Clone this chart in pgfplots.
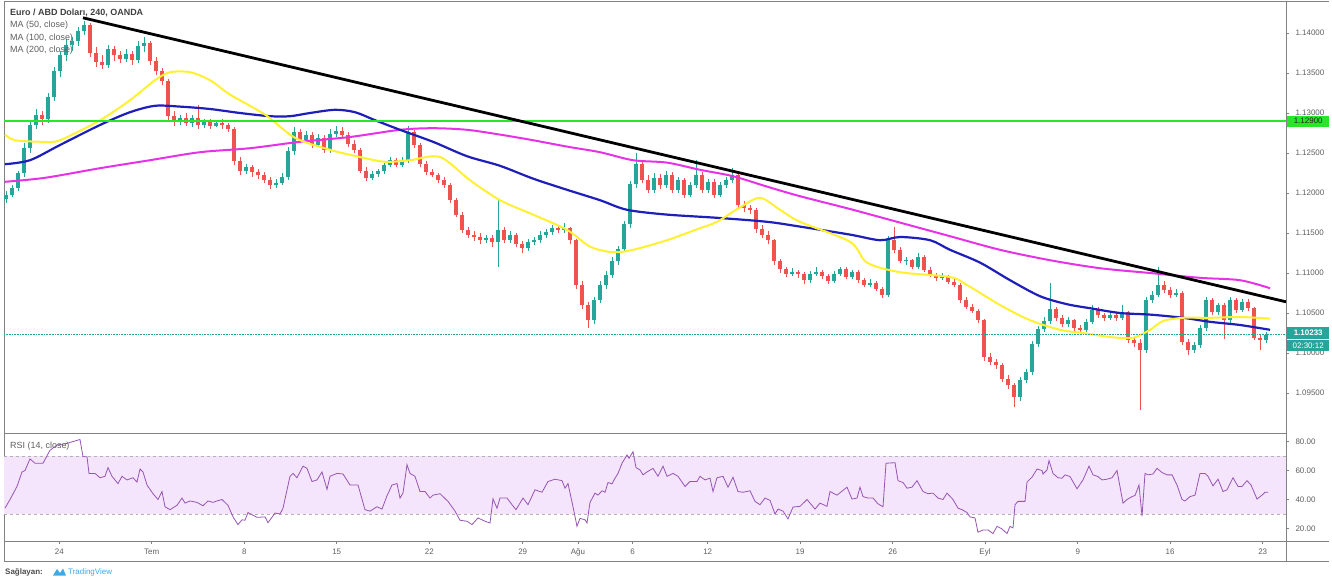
\documentclass[border=0pt]{standalone}
\usepackage{fontspec}
\setmainfont{Liberation Sans}
\usepackage{pgfplots}
\usepackage{pgfplotstable}
\pgfplotsset{compat=1.18}
\definecolor{upc}{RGB}{38,166,154}
\definecolor{dnc}{RGB}{239,83,80}
\definecolor{ma50}{RGB}{255,240,50}
\definecolor{ma100}{RGB}{30,30,185}
\definecolor{ma200}{RGB}{230,50,230}
\definecolor{glevel}{RGB}{40,230,40}
\definecolor{rsiline}{RGB}{150,85,180}
\definecolor{rsifill}{RGB}{244,228,252}
\definecolor{axgray}{RGB}{130,130,130}
\definecolor{txtgray}{RGB}{95,95,95}
\definecolor{tvblue}{RGB}{60,170,230}

\pgfplotstableread{
x o h l c
6 1.1192 1.1203 1.1188 1.1198
12 1.1198 1.1210 1.1195 1.1206
18 1.1206 1.1228 1.1203 1.1225
24 1.1225 1.1262 1.1220 1.1256
30 1.1256 1.1290 1.1250 1.1285
36 1.1285 1.1305 1.1280 1.1298
42 1.1298 1.1302 1.1285 1.1292
48 1.1292 1.1325 1.1288 1.1320
54 1.1320 1.1358 1.1315 1.1352
60 1.1352 1.1378 1.1345 1.1373
66 1.1373 1.1392 1.1365 1.1385
72 1.1385 1.1395 1.1378 1.1390
78 1.1390 1.1408 1.1384 1.1403
84 1.1403 1.1415 1.1398 1.1410
90 1.1410 1.1412 1.1370 1.1375
96 1.1375 1.1382 1.1358 1.1364
102 1.1364 1.1372 1.1355 1.1360
108 1.1360 1.1385 1.1356 1.1380
114 1.1380 1.1384 1.1365 1.1372
120 1.1372 1.1378 1.1362 1.1368
126 1.1368 1.1380 1.1364 1.1374
132 1.1374 1.1377 1.1360 1.1366
138 1.1366 1.1390 1.1362 1.1384
144 1.1384 1.1395 1.1376 1.1388
150 1.1388 1.1390 1.1360 1.1365
156 1.1365 1.1370 1.1348 1.1352
162 1.1352 1.1356 1.1335 1.1340
168 1.1340 1.1342 1.1290 1.1296
174 1.1296 1.1302 1.1284 1.1290
180 1.1290 1.1298 1.1285 1.1294
186 1.1294 1.1300 1.1284 1.1288
192 1.1288 1.1297 1.1283 1.1294
198 1.1294 1.1310 1.1280 1.1285
204 1.1285 1.1293 1.1281 1.1289
210 1.1289 1.1292 1.1280 1.1284
216 1.1284 1.1291 1.1282 1.1288
222 1.1288 1.1292 1.1280 1.1285
228 1.1285 1.1288 1.1276 1.1280
234 1.1280 1.1283 1.1235 1.1240
240 1.1240 1.1245 1.1222 1.1228
246 1.1228 1.1236 1.1224 1.1232
252 1.1232 1.1235 1.1220 1.1226
258 1.1226 1.1230 1.1218 1.1222
264 1.1222 1.1226 1.1212 1.1216
270 1.1216 1.1220 1.1205 1.1210
276 1.1210 1.1218 1.1206 1.1213
282 1.1213 1.1225 1.1210 1.1220
288 1.1220 1.1258 1.1216 1.1252
294 1.1252 1.1282 1.1248 1.1276
300 1.1276 1.1280 1.1262 1.1266
306 1.1266 1.1278 1.1262 1.1273
312 1.1273 1.1276 1.1256 1.1260
318 1.1260 1.1274 1.1257 1.1269
324 1.1269 1.1272 1.1250 1.1254
330 1.1254 1.1280 1.1250 1.1274
336 1.1274 1.1284 1.1270 1.1277
342 1.1277 1.1282 1.1268 1.1272
348 1.1272 1.1276 1.1258 1.1261
354 1.1261 1.1266 1.1250 1.1254
360 1.1254 1.1256 1.1225 1.1228
366 1.1228 1.1232 1.1215 1.1219
372 1.1219 1.1228 1.1216 1.1224
378 1.1224 1.1230 1.1220 1.1227
384 1.1227 1.1238 1.1224 1.1235
390 1.1235 1.1245 1.1232 1.1241
396 1.1241 1.1244 1.1232 1.1235
402 1.1235 1.1245 1.1232 1.1241
408 1.1241 1.1284 1.1238 1.1276
414 1.1276 1.1279 1.1256 1.1260
420 1.1260 1.1262 1.1232 1.1236
426 1.1236 1.1240 1.1222 1.1226
432 1.1226 1.1230 1.1220 1.1223
438 1.1223 1.1225 1.1212 1.1216
444 1.1216 1.1220 1.1206 1.1210
450 1.1210 1.1212 1.1188 1.1191
456 1.1191 1.1194 1.1170 1.1173
462 1.1173 1.1176 1.1150 1.1154
468 1.1154 1.1158 1.1144 1.1148
474 1.1148 1.1152 1.1140 1.1145
480 1.1145 1.1150 1.1136 1.1141
486 1.1141 1.1148 1.1138 1.1144
492 1.1144 1.1147 1.1132 1.1139
498 1.1139 1.1191 1.1108 1.1154
504 1.1154 1.1158 1.1137 1.1141
510 1.1141 1.1152 1.1138 1.1148
516 1.1148 1.1150 1.1132 1.1136
522 1.1136 1.1140 1.1125 1.1131
528 1.1131 1.1143 1.1128 1.1139
534 1.1139 1.1145 1.1135 1.1141
540 1.1141 1.1152 1.1138 1.1148
546 1.1148 1.1155 1.1144 1.1151
552 1.1151 1.1160 1.1148 1.1156
558 1.1156 1.1160 1.1150 1.1154
564 1.1154 1.1162 1.1150 1.1156
570 1.1156 1.1158 1.1136 1.1141
576 1.1141 1.1143 1.1080 1.1085
582 1.1085 1.1090 1.1055 1.1060
588 1.1060 1.1064 1.1031 1.1041
594 1.1041 1.1070 1.1036 1.1066
600 1.1066 1.1090 1.1062 1.1085
606 1.1085 1.1102 1.1080 1.1098
612 1.1098 1.1120 1.1094 1.1115
618 1.1115 1.1134 1.1110 1.1130
624 1.1130 1.1165 1.1126 1.1161
630 1.1161 1.1215 1.1156 1.1211
636 1.1211 1.1250 1.1206 1.1236
642 1.1236 1.1240 1.1212 1.1216
648 1.1216 1.1222 1.1200 1.1204
654 1.1204 1.1225 1.1200 1.1219
660 1.1219 1.1224 1.1205 1.1210
666 1.1210 1.1228 1.1206 1.1223
672 1.1223 1.1226 1.1200 1.1204
678 1.1204 1.1220 1.1200 1.1216
684 1.1216 1.1219 1.1194 1.1198
690 1.1198 1.1214 1.1195 1.1210
696 1.1210 1.1241 1.1206 1.1223
702 1.1223 1.1226 1.1200 1.1204
708 1.1204 1.1218 1.1200 1.1214
714 1.1214 1.1217 1.1194 1.1198
720 1.1198 1.1214 1.1195 1.1210
726 1.1210 1.1220 1.1206 1.1216
732 1.1216 1.1231 1.1212 1.1223
738 1.1223 1.1226 1.1180 1.1185
744 1.1185 1.1190 1.1176 1.1181
750 1.1181 1.1185 1.1174 1.1179
756 1.1179 1.1181 1.1150 1.1155
762 1.1155 1.1160 1.1144 1.1148
768 1.1148 1.1152 1.1136 1.1141
774 1.1141 1.1143 1.1110 1.1115
780 1.1115 1.1118 1.1100 1.1105
786 1.1105 1.1108 1.1095 1.1099
792 1.1099 1.1106 1.1096 1.1101
798 1.1101 1.1104 1.1094 1.1099
804 1.1099 1.1101 1.1086 1.1091
810 1.1091 1.1102 1.1088 1.1099
816 1.1099 1.1108 1.1096 1.1101
822 1.1101 1.1104 1.1093 1.1096
828 1.1096 1.1099 1.1086 1.1090
834 1.1090 1.1102 1.1087 1.1099
840 1.1099 1.1108 1.1096 1.1105
846 1.1105 1.1107 1.1092 1.1095
852 1.1095 1.1104 1.1092 1.1101
858 1.1101 1.1104 1.1088 1.1091
864 1.1091 1.1094 1.1082 1.1085
870 1.1085 1.1092 1.1082 1.1088
876 1.1088 1.1090 1.1077 1.1080
882 1.1080 1.1082 1.1069 1.1073
888 1.1073 1.1146 1.1070 1.1141
894 1.1141 1.1158 1.1125 1.1129
900 1.1129 1.1132 1.1112 1.1115
906 1.1115 1.1120 1.1110 1.1116
912 1.1116 1.1118 1.1105 1.1108
918 1.1108 1.1125 1.1105 1.1120
924 1.1120 1.1122 1.1101 1.1104
930 1.1104 1.1107 1.1095 1.1098
936 1.1098 1.1100 1.1090 1.1094
942 1.1094 1.1100 1.1091 1.1096
948 1.1096 1.1098 1.1086 1.1089
954 1.1089 1.1092 1.1082 1.1085
960 1.1085 1.1087 1.1063 1.1066
966 1.1066 1.1070 1.1055 1.1058
972 1.1058 1.1061 1.1050 1.1053
978 1.1053 1.1055 1.1038 1.1041
984 1.1041 1.1043 1.0990 1.0995
990 1.0995 1.1000 1.0985 1.0989
996 1.0989 1.0993 1.0980 1.0985
1002 1.0985 1.0988 1.0964 1.0968
1008 1.0968 1.0972 1.0955 1.0960
1014 1.0960 1.0963 1.0933 1.0945
1020 1.0945 1.0970 1.0940 1.0966
1026 1.0966 1.0980 1.0962 1.0976
1032 1.0976 1.1015 1.0972 1.1011
1038 1.1011 1.1034 1.1007 1.1030
1044 1.1030 1.1045 1.1026 1.1040
1050 1.1040 1.1088 1.1036 1.1055
1056 1.1055 1.1058 1.1040 1.1044
1062 1.1044 1.1047 1.1032 1.1036
1068 1.1036 1.1045 1.1033 1.1041
1074 1.1041 1.1043 1.1028 1.1031
1080 1.1031 1.1035 1.1025 1.1029
1086 1.1029 1.1043 1.1026 1.1039
1092 1.1039 1.1060 1.1036 1.1054
1098 1.1054 1.1057 1.1044 1.1048
1104 1.1048 1.1050 1.1040 1.1044
1110 1.1044 1.1052 1.1041 1.1048
1116 1.1048 1.1050 1.1040 1.1044
1122 1.1044 1.1060 1.1041 1.1051
1128 1.1051 1.1053 1.1012 1.1016
1134 1.1016 1.1019 1.1008 1.1013
1140 1.1013 1.1018 1.0929 1.1004
1146 1.1004 1.1070 1.1000 1.1066
1152 1.1066 1.1078 1.1062 1.1073
1158 1.1073 1.1108 1.1070 1.1085
1164 1.1085 1.1090 1.1075 1.1079
1170 1.1079 1.1082 1.1069 1.1073
1176 1.1073 1.1080 1.1070 1.1075
1182 1.1075 1.1077 1.1010 1.1014
1188 1.1014 1.1018 1.0998 1.1004
1194 1.1004 1.1014 1.1000 1.1010
1200 1.1010 1.1035 1.1006 1.1031
1206 1.1031 1.1070 1.1028 1.1066
1212 1.1066 1.1069 1.1047 1.1051
1218 1.1051 1.1063 1.1048 1.1060
1224 1.1060 1.1062 1.1018 1.1041
1230 1.1041 1.1070 1.1038 1.1066
1236 1.1066 1.1069 1.1050 1.1054
1242 1.1054 1.1067 1.1051 1.1064
1248 1.1064 1.1068 1.1052 1.1056
1254 1.1056 1.1058 1.1016 1.1019
1260 1.1019 1.1022 1.1004 1.1016
1266 1.1016 1.1026 1.1013 1.1023
}\candles

\pgfplotstableread{
x r
5 34
10 40
17 49
22 59
25 60
30 68
35 65
43 65
50 74
57 77.5
67 78.7
80 81.4
83 69.5
87 69.5
89 58
95 58
100 55
105 56
108 62
112 56
118 51
122 56
127 53.5
133 55
137 52
140 61
143 59
147 50
153 44
158 40
162 45.5
165 35
170 33
177 36
182 41
185 37.5
190 39
197 38
203 35.7
208 39
213 38
217 39
222 40
228 36
233 28
238 22.7
242 26
245 25.7
248 31
257 27.7
265 28
268 24
275 30.7
280 30
283 34
290 56
293 58
297 55
303 63
307 61.5
312 52.4
317 53.5
322 59
327 47
330 56
337 58
343 57.6
350 50
358 50
365 33
370 32
377 35
382 33.4
387 42.6
392 50
397 51
400 41
403 44.4
407 64
410 58
415 56
420 45.5
425 45.5
430 41
433 43
440 44
448 38.7
455 32
460 25.7
467 25
472 22.7
478 27.3
485 25
490 23.8
493 40.5
497 34
500 41
507 41
512 36.4
516 33
523 41
528 36.4
535 46.7
542 45
548 52.4
555 54
562 53
565 47.8
568 51
573 35
577 21.5
580 27
585 26
587 23.8
590 38
595 44.4
598 43
602 46
605 45
608 51.7
612 50.8
615 54.7
618 58
622 65
627 70.7
629 68.4
633 73
636 62
640 60.4
643 57
647 59
653 61.5
658 56
663 63
667 56
673 58
678 56
685 49
690 52.4
697 52.4
700 56
705 53.5
710 54.7
713 45.5
717 55
723 56
728 48.5
733 55.4
738 45.5
743 45
750 46
755 38.7
760 36.4
765 41
770 39.4
775 30
778 33.4
783 32
788 26.6
793 34.8
800 35.3
807 40
815 33.4
820 37.5
827 35.3
830 45.5
837 43
847 48.5
852 40.3
857 41
860 48.5
863 42
868 41
873 41
878 37
883 35
886 65
895 65.4
898 53
903 51.7
907 47.8
912 48.5
917 53
923 45.5
928 44
933 44.4
938 41
943 40
947 44.4
953 40
958 34
962 33
967 31
970 28
975 27.3
978 17.4
983 19
988 19
993 16.5
997 21.5
1002 19.7
1007 16.5
1010 21.5
1013 20.4
1015 36.4
1018 38.7
1025 38.7
1027 52
1032 55.4
1037 61
1042 60
1043 57.6
1047 60.4
1049 66.8
1053 58
1058 55
1062 54.7
1065 57
1070 55.8
1077 47.4
1083 53.5
1089 63
1093 57
1098 55.8
1102 53.5
1107 54
1112 55
1117 60
1123 37.5
1127 40
1132 42
1135 42.8
1139 50
1142 28.4
1145 58
1148 57
1153 57.6
1157 61.5
1162 58.6
1167 57
1172 57
1177 50
1182 40
1185 39
1190 42
1195 43
1200 58
1205 58
1208 56
1213 49.4
1218 54
1223 45.5
1227 46.7
1233 55
1238 49
1242 49
1247 53
1251 50
1257 40.3
1262 43
1265 45
1268 45
}\rsidata

\begin{document}
\begin{tikzpicture}
\path[use as bounding box] (0,0) rectangle (1332bp,-578bp);

% ---------- main price panel ----------
\begin{axis}[
  at={(4bp,-433bp)}, anchor=south west, scale only axis,
  width=1282bp, height=432bp,
  xmin=4, xmax=1286, ymin=1.09, ymax=1.144,
  axis line style={draw=axgray, line width=0.6bp},
  xtick=\empty,
  ytick={1.095,1.10,1.105,1.11,1.115,1.12,1.125,1.13,1.135,1.14},
  ytick pos=right, yticklabel pos=right,
  tick align=outside, major tick length=3bp,
  tick style={draw=axgray, line width=0.5bp},
  yticklabel style={font=\fontsize{8}{9}\selectfont, text=txtgray, xshift=3bp,
    /pgf/number format/.cd, fixed, fixed zerofill, precision=5, assume math mode=true},
]
% wicks
\addplot[draw=none, mark=none, forget plot,
  restrict expr to domain={\thisrow{c}-\thisrow{o}}{0:1},
  error bars/.cd, y dir=plus, y explicit, error mark=none,
  error bar style={draw=upc, line width=1bp}]
  table[x=x, y=l, y error plus expr=\thisrow{h}-\thisrow{l}] {\candles};
\addplot[draw=none, mark=none, forget plot,
  restrict expr to domain={\thisrow{o}-\thisrow{c}}{0.00001:1},
  error bars/.cd, y dir=plus, y explicit, error mark=none,
  error bar style={draw=dnc, line width=1bp}]
  table[x=x, y=l, y error plus expr=\thisrow{h}-\thisrow{l}] {\candles};
% bodies
\addplot[draw=none, mark=none, forget plot,
  restrict expr to domain={\thisrow{c}-\thisrow{o}}{0:1},
  error bars/.cd, y dir=plus, y explicit, error mark=none,
  error bar style={draw=upc, line width=4.4bp}]
  table[x=x, y=o, y error plus expr=\thisrow{c}-\thisrow{o}] {\candles};
\addplot[draw=none, mark=none, forget plot,
  restrict expr to domain={\thisrow{o}-\thisrow{c}}{0.00001:1},
  error bars/.cd, y dir=plus, y explicit, error mark=none,
  error bar style={draw=dnc, line width=4.4bp}]
  table[x=x, y=c, y error plus expr=\thisrow{o}-\thisrow{c}] {\candles};

% moving averages
\addplot[ma200, line width=2bp, smooth, mark=none] coordinates {
(5,1.1214) (45,1.1219) (100,1.1231) (150,1.1241) (200,1.1251) (250,1.1256)
(300,1.1264) (350,1.1270) (400,1.1279) (433,1.1281) (467,1.1279) (500,1.1273)
(533,1.1266) (567,1.1258) (600,1.1251) (633,1.1241) (667,1.1238) (700,1.1229)
(733,1.1221) (767,1.1208) (800,1.1196) (850,1.1180) (900,1.1163) (950,1.1146)
(1000,1.1129) (1050,1.1116) (1100,1.1106) (1150,1.1100) (1200,1.1094)
(1240,1.1091) (1270,1.1081)};
\addplot[ma100, line width=2.2bp, smooth, mark=none] coordinates {
(5,1.1236) (30,1.1241) (60,1.1260) (100,1.1285) (130,1.1301) (155,1.1309)
(180,1.1308) (210,1.1305) (240,1.1300) (270,1.1296) (290,1.1296) (310,1.1300)
(335,1.1304) (355,1.1301) (375,1.1291) (400,1.1279) (433,1.1264) (467,1.1246)
(500,1.1234) (533,1.1218) (567,1.1204) (600,1.1191) (627,1.1179) (667,1.1173)
(717,1.1169) (767,1.1164) (800,1.1158) (850,1.1148) (880,1.1141) (900,1.1145)
(930,1.1141) (950,1.1129) (980,1.1113) (1010,1.1091) (1040,1.1071)
(1067,1.1061) (1090,1.1056) (1120,1.1050) (1150,1.1048) (1183,1.1044)
(1210,1.1039) (1240,1.1035) (1270,1.1029)};
\addplot[ma50, line width=2bp, smooth, mark=none] coordinates {
(5,1.1273) (15,1.1266) (43,1.1264) (60,1.1266) (100,1.1291) (130,1.1316)
(155,1.1341) (170,1.1351) (190,1.1351) (210,1.1341) (230,1.1323) (265,1.1298)
(295,1.1269) (330,1.1254) (360,1.1245) (385,1.1239) (410,1.1241) (440,1.1245)
(470,1.1216) (500,1.1191) (533,1.1173) (567,1.1154) (590,1.1133) (613,1.1126)
(633,1.1129) (667,1.1141) (700,1.1156) (717,1.1164) (740,1.1182) (760,1.1194)
(780,1.1179) (800,1.1164) (850,1.1139) (867,1.1113) (900,1.1101) (950,1.1095)
(967,1.1085) (1000,1.1060) (1030,1.1041) (1060,1.1029) (1083,1.1025)
(1110,1.1020) (1133,1.1019) (1150,1.1029) (1163,1.1040) (1183,1.1044)
(1210,1.1044) (1240,1.1045) (1270,1.1043)};

% horizontal level and trend line
\addplot[glevel, line width=2bp, mark=none] coordinates {(4,1.129) (1286,1.129)};
\addplot[black, line width=2.8bp, mark=none] coordinates {(83,1.1419) (1286,1.1064)};
\addplot[upc, densely dotted, line width=0.6bp, mark=none] coordinates {(4,1.10233) (1286,1.10233)};
\end{axis}

% ---------- RSI panel ----------
\begin{axis}[
  at={(4bp,-541bp)}, anchor=south west, scale only axis,
  width=1282bp, height=108bp,
  xmin=4, xmax=1286, ymin=11.38, ymax=85.86,
  axis line style={draw=axgray, line width=0.6bp},
  ytick={20,40,60,80},
  ytick pos=right, yticklabel pos=right,
  xtick pos=bottom,
  xtick={59.3,151.7,244.3,336.7,429.3,522.7,578,632.7,707.7,800,892.7,985,1077.7,1170,1262.7},
  xticklabels={24,Tem,8,15,22,29,Ağu,6,12,19,26,Eyl,9,16,23},
  tick align=outside, major tick length=3bp,
  tick style={draw=axgray, line width=0.5bp},
  xticklabel style={font=\fontsize{8}{9}\selectfont, text=txtgray, yshift=-1bp},
  yticklabel style={font=\fontsize{8}{9}\selectfont, text=txtgray, xshift=3bp,
    /pgf/number format/.cd, fixed, fixed zerofill, precision=2, assume math mode=true},
]
\addplot[draw=none, fill=rsifill, mark=none] coordinates {(4,30) (1286,30) (1286,70) (4,70)} -- cycle;
\addplot[gray!60, dashed, line width=0.6bp, mark=none] coordinates {(4,70) (1286,70)};
\addplot[gray!60, dashed, line width=0.6bp, mark=none] coordinates {(4,30) (1286,30)};
\addplot[rsiline, line width=0.8bp, mark=none] table[x=x, y=r] {\rsidata};
\end{axis}

% ---------- frame lines ----------
\draw[axgray, line width=0.6bp] (4bp,-1bp) -- (1329bp,-1bp);
\draw[axgray, line width=0.6bp] (4bp,-541bp) -- (1329bp,-541bp);
\draw[axgray, line width=0.6bp] (4bp,-561bp) -- (1329bp,-561bp);
\draw[axgray, line width=0.6bp] (4bp,-541bp) -- (4bp,-561bp);
\draw[axgray, line width=0.6bp] (1286bp,-541bp) -- (1286bp,-561bp);

% ---------- texts ----------
\node[anchor=west, inner sep=0, font=\bfseries\fontsize{9}{10}\selectfont, text=black!75] at (10bp,-13bp) {Euro / ABD Doları, 240, OANDA};
\node[anchor=west, inner sep=0, font=\fontsize{9}{10}\selectfont, text=txtgray] at (10bp,-25.5bp) {MA (50, close)};
\node[anchor=west, inner sep=0, font=\fontsize{9}{10}\selectfont, text=txtgray] at (10bp,-38bp) {MA (100, close)};
\node[anchor=west, inner sep=0, font=\fontsize{9}{10}\selectfont, text=txtgray] at (10bp,-50.5bp) {MA (200, close)};
\node[anchor=west, inner sep=0, font=\fontsize{9}{10}\selectfont, text=txtgray] at (10bp,-446bp) {RSI (14, close)};

% price labels on the right scale
\node[anchor=west, fill=glevel, text=black!85, inner sep=0, minimum width=42bp, minimum height=11bp,
  font=\fontsize{8}{9}\selectfont] at (1287bp,-121bp) {1.12900};
\node[anchor=west, fill=upc, text=white, inner sep=0, minimum width=42bp, minimum height=11.5bp,
  font=\bfseries\fontsize{8}{9}\selectfont] at (1287bp,-333bp) {1.10233};
\node[anchor=west, fill=upc, text=white, inner sep=0, minimum width=42bp, minimum height=11.5bp,
  font=\fontsize{8}{9}\selectfont] at (1287bp,-345.5bp) {02:30:12};

% footer
\node[anchor=west, inner sep=0, font=\bfseries\fontsize{8}{10}\selectfont, text=black!70] at (5bp,-572bp) {Sağlayan:};
\fill[tvblue] (53bp,-575.5bp) -- (57bp,-569bp) -- (60bp,-573bp) -- (63bp,-568.5bp) -- (66bp,-575.5bp) -- cycle;
\node[anchor=west, inner sep=0, font=\fontsize{8}{10}\selectfont, text=tvblue] at (68bp,-572bp) {TradingView};
\end{tikzpicture}
\end{document}
